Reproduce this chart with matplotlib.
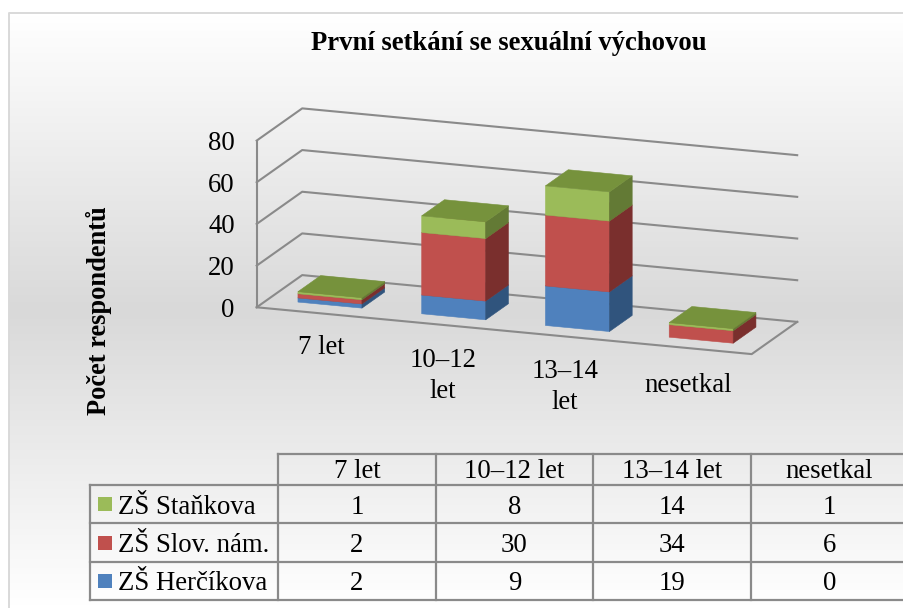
import numpy as np
import matplotlib
matplotlib.use("Agg")
import matplotlib.pyplot as plt
from matplotlib.colors import LinearSegmentedColormap
from matplotlib.patches import Polygon, Rectangle

categories = ["7 let", "10–12 let", "13–14 let", "nesetkal"]
axis_labels = ["7 let", "10–12\nlet", "13–14\nlet", "nesetkal"]
herc = [2, 9, 19, 0]
slov = [2, 30, 34, 6]
stan = [1, 8, 14, 1]
y_ticks = [0, 20, 40, 60, 80]

plt.rcParams["font.family"] = ["Liberation Serif", "DejaVu Serif"]

# bottom to top in the stack: values, front, side, top
stack = [
    (herc, "#4F81BD", "#30547D", "#3F6797"),
    (slov, "#C0504D", "#7A2F2D", "#9A403E"),
    (stan, "#9BBB59", "#637A35", "#76923C"),
]
# table order is top to bottom
table_rows = [("ZŠ Staňkova", stan, "#9BBB59"),
              ("ZŠ Slov. nám.", slov, "#C0504D"),
              ("ZŠ Herčíkova", herc, "#4F81BD")]

GRID = "#8A8A8A"
BAR_W = 0.517
BAR_D0, BAR_D1 = 0.25, 0.75
TEXT_SIZE = 19.3


def project(cat, depth, value):
    """Oblique projection: category, depth (0-1), value to pixel position."""
    px = 256.7 + 123.75 * cat + 45.5 * depth
    py = 307.3 + 11.7 * cat - 32.2 * depth - 2.084 * value
    return px, py


fig = plt.figure(figsize=(9.04, 6.08), dpi=100)
ax = fig.add_axes([0, 0, 1, 1])
ax.axis("off")

# chart area background: white, grey in the middle, white again
cmap = LinearSegmentedColormap.from_list(
    "bg", [(0, "#FFFFFF"), (0.5, "#D9D9D9"), (1, "#FFFFFF")])
ax.imshow(np.linspace(0, 1, 300).reshape(-1, 1), cmap=cmap, aspect="auto",
          extent=(9, 904, 608, 13), zorder=0)
ax.set_xlim(0, 904)
ax.set_ylim(608, 0)
ax.plot([9, 9, 904], [608, 13, 13], color="#D9D9D9", lw=1.4, zorder=1)

# walls and floor
for v in y_ticks:
    a, b, c = project(0, 0, v), project(0, 1, v), project(4, 1, v)
    ax.plot([a[0], b[0], c[0]], [a[1], b[1], c[1]], color=GRID, lw=1.5, zorder=2)
    ax.text(a[0] - 22, a[1] + 3, str(v), ha="right", va="center", fontsize=TEXT_SIZE, zorder=5)
a, b = project(0, 0, 0), project(0, 0, y_ticks[-1])
ax.plot([a[0], b[0]], [a[1], b[1]], color=GRID, lw=1.5, zorder=2)
a, b, c = project(0, 0, 0), project(4, 0, 0), project(4, 1, 0)
ax.plot([a[0], b[0], c[0]], [a[1], b[1], c[1]], color=GRID, lw=1.5, zorder=2)

# stacked bars
for i in range(len(categories)):
    c0 = i + 0.5 - BAR_W / 2
    c1 = i + 0.5 + BAR_W / 2
    base = 0
    for values, front, side, top in stack:
        v = values[i]
        if v == 0:
            continue
        h = base + v
        ax.add_patch(Polygon([project(c0, BAR_D0, base), project(c1, BAR_D0, base),
                              project(c1, BAR_D0, h), project(c0, BAR_D0, h)],
                             fc=front, ec=front, lw=0.4, zorder=3))
        ax.add_patch(Polygon([project(c1, BAR_D0, base), project(c1, BAR_D1, base),
                              project(c1, BAR_D1, h), project(c1, BAR_D0, h)],
                             fc=side, ec=side, lw=0.4, zorder=3))
        ax.add_patch(Polygon([project(c0, BAR_D0, h), project(c1, BAR_D0, h),
                              project(c1, BAR_D1, h), project(c0, BAR_D1, h)],
                             fc=top, ec=top, lw=0.4, zorder=3))
        base = h

# category labels under the floor
label_x = [321, 443, 565, 688]
label_y = [347, 376, 387, 385]
for i, lab in enumerate(axis_labels):
    ax.text(label_x[i], label_y[i], lab, ha="center", va="center",
            fontsize=TEXT_SIZE, linespacing=1.3, zorder=5)

ax.text(509, 43, "První setkání se sexuální výchovou", ha="center", va="center",
        fontsize=19.2, fontweight="bold", zorder=5)
ax.text(99, 311, "Počet respondentů", ha="center", va="center", rotation=90,
        fontsize=19.1, fontweight="bold", zorder=5)

# data table
col_x = [90, 278, 436, 593, 751, 908]
row_y = [454, 485, 523, 562, 600]
ax.plot([col_x[1], col_x[-1]], [row_y[0], row_y[0]], color=GRID, lw=1.6, zorder=2)
for y in row_y[1:]:
    ax.plot([col_x[0], col_x[-1]], [y, y], color=GRID, lw=1.6, zorder=2)
ax.plot([col_x[0], col_x[0]], [row_y[1], row_y[-1]], color=GRID, lw=1.6, zorder=2)
for x in col_x[1:]:
    ax.plot([x, x], [row_y[0], row_y[-1]], color=GRID, lw=1.6, zorder=2)

for j, cat in enumerate(categories):
    ax.text((col_x[j + 1] + col_x[j + 2]) / 2, 472, cat, ha="center", va="center",
            fontsize=TEXT_SIZE, zorder=5)
for r, (name, values, color) in enumerate(table_rows):
    cy = (row_y[r + 1] + row_y[r + 2]) / 2
    ax.add_patch(Rectangle((98, cy - 7), 14, 14, fc=color, ec="none", zorder=4))
    ax.text(118, cy + 3, name, ha="left", va="center", fontsize=TEXT_SIZE, zorder=5)
    for j, v in enumerate(values):
        ax.text((col_x[j + 1] + col_x[j + 2]) / 2, cy + 3, str(v), ha="center", va="center",
                fontsize=TEXT_SIZE, zorder=5)

fig.savefig("out.png", dpi=100)
